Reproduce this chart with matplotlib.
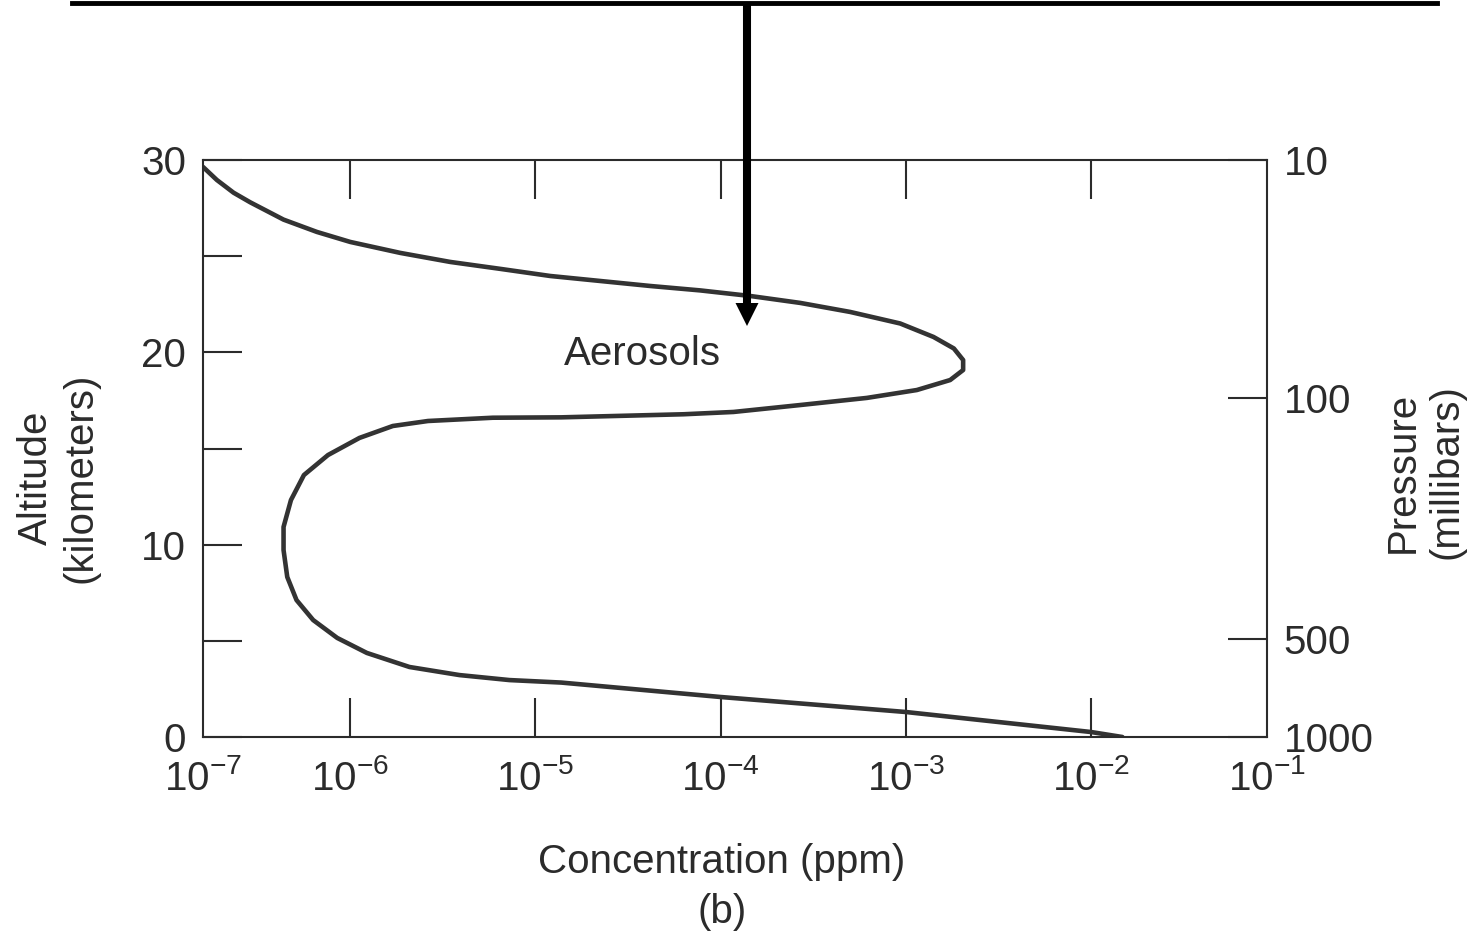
import numpy as np
import matplotlib
matplotlib.use('Agg')
import matplotlib.pyplot as plt
from matplotlib.patches import Polygon

# aerosol profile: log10(concentration ppm), altitude km
log_conc = [-6.795, -6.72, -6.63, -6.54, -6.36, -6.18, -6.00, -5.73, -5.46, -5.19,
            -4.92, -4.65, -4.38, -4.11, -3.84, -3.57, -3.30, -3.03, -2.85, -2.74,
            -2.69, -2.69, -2.76, -2.94, -3.21, -3.57, -3.93, -4.20, -4.86, -5.23,
            -5.58, -5.77, -5.95, -6.12, -6.25, -6.32, -6.36, -6.36, -6.34, -6.29,
            -6.20, -6.07, -5.91, -5.68, -5.41, -5.14, -4.86, -4.00, -3.00, -2.00,
            -1.83]
alt_km = [29.64, 28.96, 28.30, 27.80, 26.90, 26.26, 25.74, 25.17, 24.70, 24.34,
          23.97, 23.71, 23.45, 23.22, 22.93, 22.57, 22.10, 21.50, 20.80, 20.20,
          19.60, 19.08, 18.56, 18.04, 17.63, 17.26, 16.90, 16.78, 16.62, 16.60,
          16.43, 16.17, 15.55, 14.66, 13.62, 12.32, 10.92, 9.72, 8.32, 7.12,
          6.08, 5.15, 4.37, 3.64, 3.22, 2.96, 2.83, 2.08, 1.30, 0.26,
          0.0]

alt_ticks = [0, 5, 10, 15, 20, 25, 30]
alt_labels = ['0', '', '10', '', '20', '', '30']
conc_labels = ['$\\mathregular{10^{-7}}$', '$\\mathregular{10^{-6}}$', '$\\mathregular{10^{-5}}$',
               '$\\mathregular{10^{-4}}$', '$\\mathregular{10^{-3}}$', '$\\mathregular{10^{-2}}$',
               '$\\mathregular{10^{-1}}$']
pressure_labels = ['10', '100', '500', '1000']
pressure_alt = [30, 17.6, 5.1, 0]

plt.rcParams['font.family'] = ['Liberation Sans', 'DejaVu Sans']
plt.rcParams['mathtext.fontset'] = 'custom'
plt.rcParams['mathtext.rm'] = 'Liberation Sans'
ink = '#2b2b2b'
fs = 29

fig = plt.figure(figsize=(14.8, 9.32), dpi=100)
ax = fig.add_axes([203/1480, 1-737/932, 1064/1480, 577/932])

conc = [10**v for v in log_conc]
ax.plot(conc, alt_km, color='#333333', lw=3.3, solid_capstyle='round', solid_joinstyle='round')

ax.set_xscale('log')
x_lo, x_hi = 10**-6.795, 10**-1.049
ax.set_xlim(x_lo, x_hi)
ax.set_ylim(0, 30)
ax.xaxis.set_minor_locator(matplotlib.ticker.NullLocator())
ax.set_xticks([x_lo, 1e-6, 1e-5, 1e-4, 1e-3, 1e-2, x_hi])
ax.set_xticklabels(conc_labels)
ax.set_yticks(alt_ticks)
ax.set_yticklabels(alt_labels)

for s in ax.spines.values():
    s.set_color(ink)
    s.set_linewidth(1.5)
ax.tick_params(axis='x', which='major', direction='in', length=28, width=1.5, color=ink,
               top=True, labelsize=fs, labelcolor=ink, pad=16)
ax.tick_params(axis='y', which='major', direction='in', length=28, width=1.5, color=ink,
               labelsize=fs, labelcolor=ink, pad=12)
# hide the end ticks that sit on the frame
for t in (ax.xaxis.get_major_ticks()[0], ax.xaxis.get_major_ticks()[-1]):
    t.tick1line.set_visible(False)
    t.tick2line.set_visible(False)

ax2 = ax.twinx()
ax2.set_ylim(0, 30)
ax2.set_yticks(pressure_alt)
ax2.set_yticklabels(pressure_labels)
ax2.tick_params(axis='y', direction='in', length=28, width=1.5, color=ink,
                labelsize=fs, labelcolor=ink, pad=12)
for s in ax2.spines.values():
    s.set_visible(False)

ax.text(10**-4.42, 19.9, 'Aerosols', fontsize=fs, color=ink, ha='center', va='center')

fig.text(58/1480, 1-478/932, 'Altitude\n(kilometers)', rotation=90, fontsize=fs, color=ink,
         ha='center', va='center', multialignment='center', linespacing=1.2)
fig.text(1425/1480, 1-472/932, 'Pressure\n(millibars)', rotation=90, fontsize=fs, color=ink,
         ha='center', va='center', multialignment='center', linespacing=1.2)
fig.text(722/1480, 1-862/932, 'Concentration (ppm)', fontsize=fs, color=ink, ha='center', va='center')
fig.text(722/1480, 1-912/932, '(b)', fontsize=fs, color=ink, ha='center', va='center')

# frame line and arrow on top of the figure (figure pixels)
fig.add_artist(plt.Line2D([72/1480, 1437/1480], [1-2.5/932, 1-2.5/932], color='black', lw=3.5))
fig.add_artist(plt.Line2D([747/1480, 747/1480], [1-5/932, 1-306/932], color='black', lw=5.8,
                          solid_capstyle='butt'))
fig.add_artist(Polygon([[735.5/1480, 1-303/932], [758.5/1480, 1-303/932], [747/1480, 1-326/932]],
                       closed=True, facecolor='black', edgecolor='none', transform=fig.transFigure))

plt.savefig('out.png', dpi=100)
